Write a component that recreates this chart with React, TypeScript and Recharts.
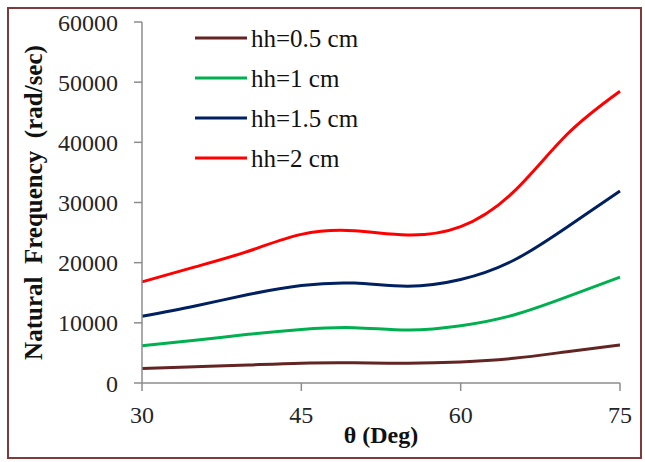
import { LineChart, Line, XAxis, YAxis } from "recharts"

const theta = [30, 35, 40, 45, 50, 55, 60, 65, 70, 75]
const hh05 = [2400, 2700, 3000, 3300, 3350, 3300, 3500, 4100, 5200, 6300]
const hh1 = [6200, 7100, 8100, 8900, 9200, 8800, 9500, 11300, 14300, 17600]
const hh15 = [11100, 12800, 14700, 16200, 16600, 16100, 17200, 20400, 25900, 31900]
const hh2 = [16800, 19300, 21900, 24700, 25300, 24600, 26000, 31800, 41300, 48500]

const xTicks = [30, 45, 60, 75]
const yTicks = [0, 10000, 20000, 30000, 40000, 50000, 60000]

const seriesList = [
  { key: "a", name: "hh=0.5 cm", color: "#632523", values: hh05 },
  { key: "b", name: "hh=1 cm", color: "#00b050", values: hh1 },
  { key: "c", name: "hh=1.5 cm", color: "#002060", values: hh15 },
  { key: "d", name: "hh=2 cm", color: "#ff0000", values: hh2 },
]

const chartData = theta.map((t, i) => {
  const row: Record<string, number> = { theta: t }
  seriesList.forEach((s) => {
    row[s.key] = s.values[i]
  })
  return row
})

const FONT = "Liberation Serif"

// legend drawn as an overlay so it doesn't eat plot space
function LegendBox() {
  return (
    <div style={{ position: "absolute", left: 195, top: 18, fontFamily: FONT, fontSize: 25, color: "#111" }}>
      {seriesList.map((s) => (
        <div key={s.key} style={{ display: "flex", alignItems: "center", height: 40 }}>
          <svg width={56} height={6}>
            <line x1={0} y1={3} x2={52} y2={3} stroke={s.color} strokeWidth={3} />
          </svg>
          <span style={{ lineHeight: "25px", whiteSpace: "nowrap" }}>{s.name}</span>
        </div>
      ))}
    </div>
  )
}

export default function App() {
  return (
    <div style={{ position: "absolute", left: 0, top: 0, width: 645, height: 462, background: "#fff" }}>
      <div
        style={{
          position: "absolute",
          left: 7,
          top: 7,
          width: 631,
          height: 448,
          border: "2px solid #7f3b3b",
        }}
      />
      <LineChart width={645} height={462} data={chartData} margin={{ top: 22, right: 25, bottom: 19, left: 0 }}>
        <XAxis
          dataKey="theta"
          type="number"
          domain={[30, 75]}
          ticks={xTicks}
          stroke="#8c8c8c"
          strokeWidth={1.5}
          tickSize={8}
          tickMargin={15}
          height={60}
          tick={{ fill: "#262626", fontSize: 24, fontFamily: FONT }}
          label={{
            value: "θ (Deg)",
            position: "insideBottom",
            offset: 0,
            fill: "#111",
            fontSize: 24,
            fontWeight: "bold",
            fontFamily: FONT,
          }}
        />
        <YAxis
          type="number"
          domain={[0, 60000]}
          ticks={yTicks}
          stroke="#8c8c8c"
          strokeWidth={1.5}
          tickSize={8}
          tickMargin={16}
          width={142}
          tick={{ fill: "#262626", fontSize: 24, fontFamily: FONT }}
          label={{
            value: "Natural\u00a0\u00a0Frequency\u00a0\u00a0(rad/sec)",
            angle: -90,
            position: "insideLeft",
            offset: 33,
            fill: "#111",
            fontSize: 25,
            fontWeight: "bold",
            fontFamily: FONT,
            style: { textAnchor: "middle" },
          }}
        />
        {seriesList.map((s) => (
          <Line
            key={s.key}
            type="natural"
            dataKey={s.key}
            name={s.name}
            stroke={s.color}
            strokeWidth={3}
            dot={false}
            isAnimationActive={false}
          />
        ))}
      </LineChart>
      <LegendBox />
    </div>
  )
}
